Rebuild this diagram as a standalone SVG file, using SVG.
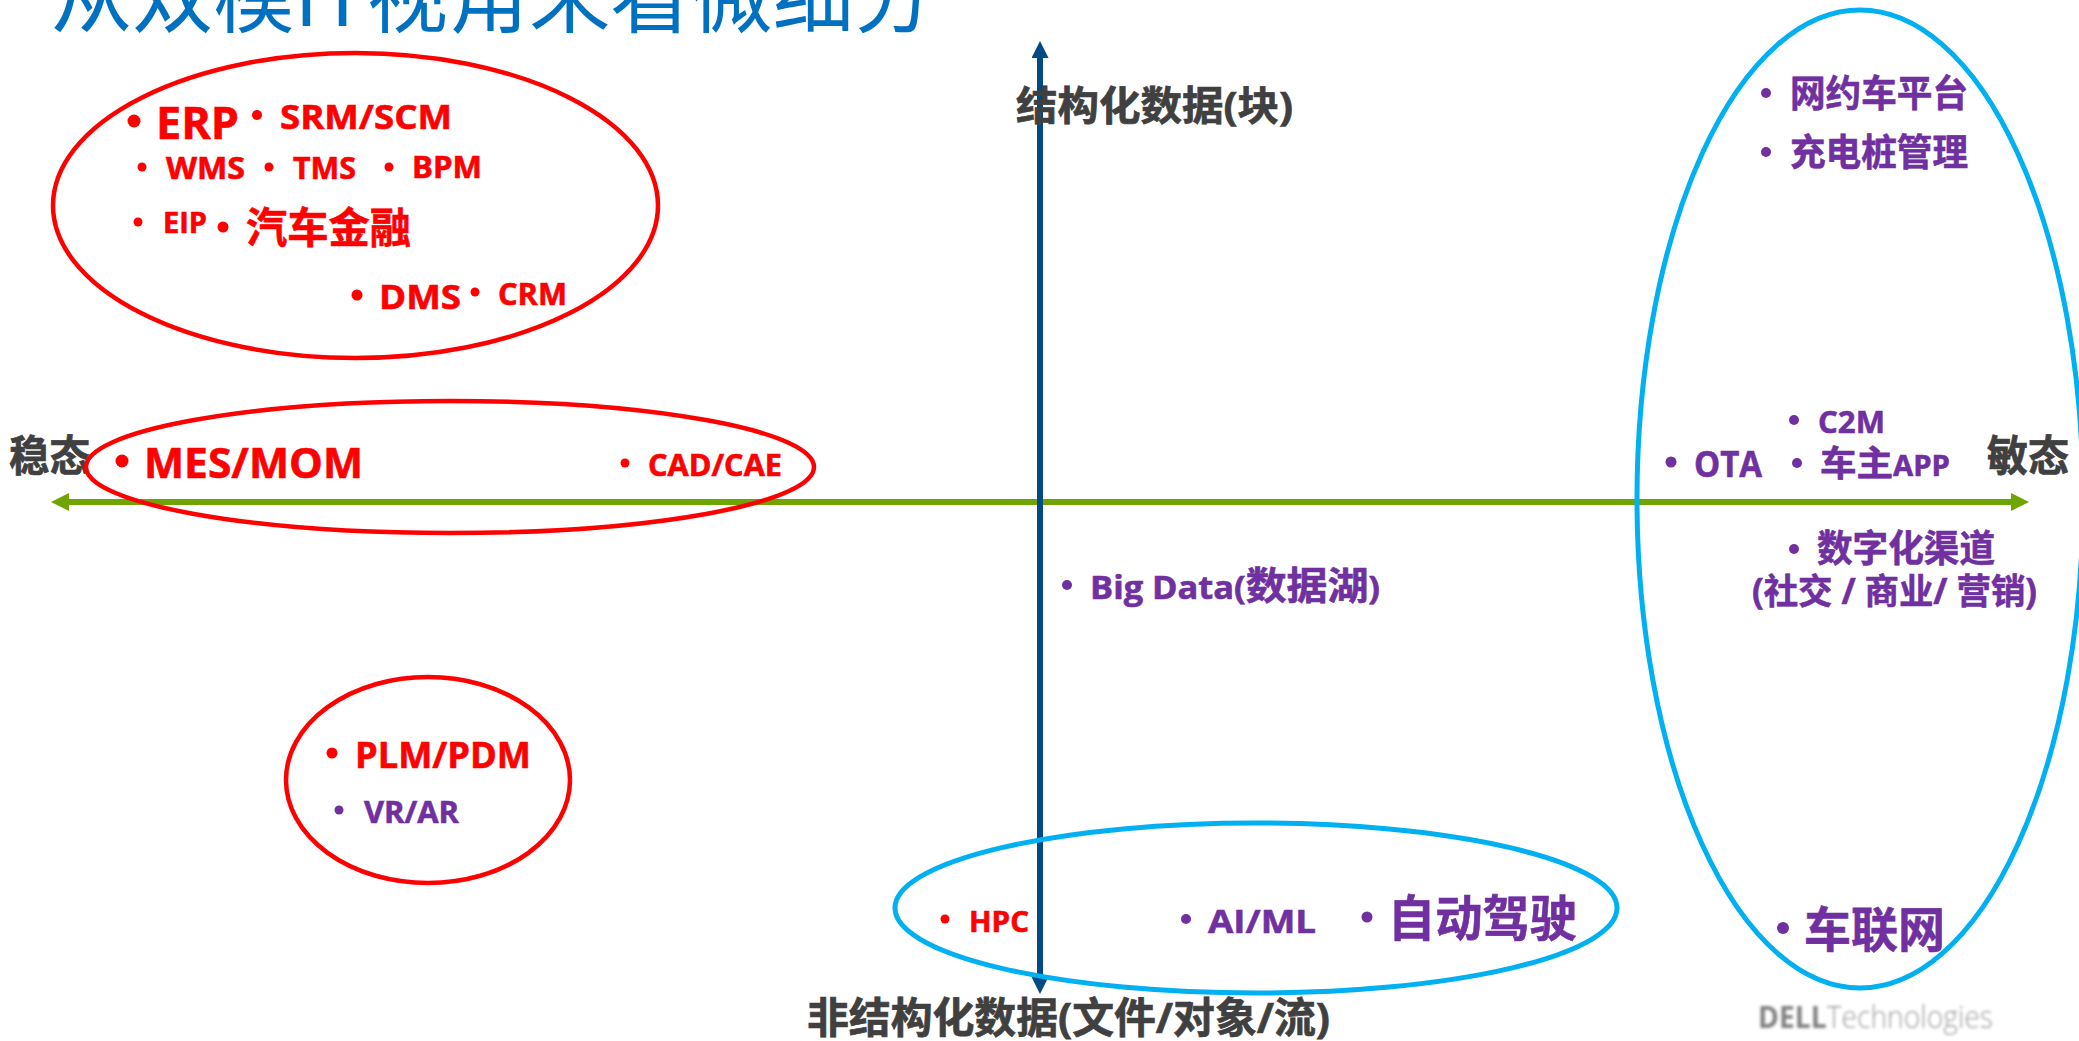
<svg xmlns="http://www.w3.org/2000/svg" width="2079" height="1041" viewBox="0 0 2079 1041">
<defs>
<marker id="ah-green" markerUnits="userSpaceOnUse" markerWidth="18" markerHeight="18" refX="1" refY="9" orient="auto-start-reverse"><path d="M0 0L18 9L0 18z" fill="#6fa500"/></marker>
<marker id="ah-blue" markerUnits="userSpaceOnUse" markerWidth="17" markerHeight="17" refX="1" refY="8.5" orient="auto-start-reverse"><path d="M0 0L17 8.5L0 17z" fill="#004a86"/></marker>
<filter id="soft" x="-5%" y="-20%" width="110%" height="140%"><feGaussianBlur stdDeviation="1.5"/></filter>
</defs>
<style>
text{font-family:"Open Sans","Noto Sans CJK SC","Liberation Sans",sans-serif;font-weight:700}
.r{fill:#ff0000}.p{fill:#7030a0}.g{fill:#404040}
text.r{stroke:#ff0000;stroke-width:.6}
text.p{stroke:#7030a0;stroke-width:.6}
text.g{stroke:#404040;stroke-width:.7}
.er{fill:none;stroke:#ff0000;stroke-width:4.5}
.eb{fill:none;stroke:#00b0f0;stroke-width:5}
</style>
<rect width="2079" height="1041" fill="#ffffff"/>
<text id="title" x="51" y="26" font-size="84" style="font-weight:400;font-family:'Noto Sans CJK SC',sans-serif" fill="#0070c0" textLength="884" lengthAdjust="spacingAndGlyphs">从双模IT视角来看微细分</text>
<g id="connectors">
<line x1="68" y1="502" x2="2012" y2="502" stroke="#6fa500" stroke-width="6" marker-start="url(#ah-green)" marker-end="url(#ah-green)"/>
<line x1="1040" y1="57" x2="1040" y2="978" stroke="#004a86" stroke-width="6" marker-start="url(#ah-blue)" marker-end="url(#ah-blue)"/>
</g>
<g id="axis-top"><text class="g" x="1016" y="120" font-size="40" textLength="277" lengthAdjust="spacingAndGlyphs">结构化数据(块)</text></g>
<g id="axis-bottom"><text class="g" x="807" y="1033" font-size="42" textLength="523" lengthAdjust="spacingAndGlyphs">非结构化数据(文件/对象/流)</text></g>
<g id="axis-left"><text class="g" x="9" y="471" font-size="42" textLength="81" lengthAdjust="spacingAndGlyphs">稳态</text></g>
<g id="axis-right"><text class="g" x="1987" y="471" font-size="42" textLength="82" lengthAdjust="spacingAndGlyphs">敏态</text></g>
<g id="node-enterprise">
<ellipse class="er" cx="355.500" cy="205.500" rx="302.500" ry="152.500"/>
<circle class="r" cx="134" cy="121" r="6.5"/><text class="r" x="156" y="139" font-size="45" textLength="83" lengthAdjust="spacingAndGlyphs">ERP</text>
<circle class="r" cx="257" cy="115" r="5"/><text class="r" x="280" y="129" font-size="34" textLength="172" lengthAdjust="spacingAndGlyphs">SRM/SCM</text>
<circle class="r" cx="142" cy="167" r="4.5"/><text class="r" x="166" y="179" font-size="30" textLength="79" lengthAdjust="spacingAndGlyphs">WMS</text>
<circle class="r" cx="269" cy="167" r="4.5"/><text class="r" x="293" y="179" font-size="30" textLength="63" lengthAdjust="spacingAndGlyphs">TMS</text>
<circle class="r" cx="389" cy="167" r="4.5"/><text class="r" x="412" y="178" font-size="30" textLength="70" lengthAdjust="spacingAndGlyphs">BPM</text>
<circle class="r" cx="138" cy="222" r="4.5"/><text class="r" x="163" y="233" font-size="28" textLength="44" lengthAdjust="spacingAndGlyphs">EIP</text>
<circle class="r" cx="223" cy="227" r="5.5"/><text class="r" x="246" y="243" font-size="42" textLength="165" lengthAdjust="spacingAndGlyphs">汽车金融</text>
<circle class="r" cx="357" cy="295" r="5.5"/><text class="r" x="379" y="309" font-size="34" textLength="82" lengthAdjust="spacingAndGlyphs">DMS</text>
<circle class="r" cx="475" cy="292" r="4.5"/><text class="r" x="498" y="305" font-size="30" textLength="69" lengthAdjust="spacingAndGlyphs">CRM</text>
</g>
<g id="node-manufacturing">
<ellipse class="er" cx="450" cy="467" rx="364" ry="66"/>
<circle class="r" cx="122" cy="461" r="6.5"/><text class="r" x="144" y="478" font-size="41" textLength="219" lengthAdjust="spacingAndGlyphs">MES/MOM</text>
<circle class="r" cx="625" cy="463" r="4.5"/><text class="r" x="648" y="476" font-size="30" textLength="134" lengthAdjust="spacingAndGlyphs">CAD/CAE</text>
</g>
<g id="node-product">
<ellipse class="er" cx="428" cy="780" rx="142" ry="103"/>
<circle class="r" cx="332" cy="753" r="5.5"/><text class="r" x="355" y="768" font-size="36" textLength="176" lengthAdjust="spacingAndGlyphs">PLM/PDM</text>
<circle class="p" cx="339" cy="810" r="4.5"/><text class="p" x="364" y="823" font-size="30" textLength="95" lengthAdjust="spacingAndGlyphs">VR/AR</text>
</g>
<g id="node-compute">
<ellipse class="eb" cx="1256" cy="908" rx="361" ry="85"/>
<circle class="r" cx="945" cy="919" r="4.500"/><text class="r" x="969" y="932" font-size="28" textLength="60" lengthAdjust="spacingAndGlyphs">HPC</text>
<circle class="p" cx="1186" cy="919" r="5"/><text class="p" x="1208" y="933" font-size="33" textLength="108" lengthAdjust="spacingAndGlyphs">AI/ML</text>
<circle class="p" cx="1367" cy="917" r="5.5"/><text class="p" x="1388" y="936" font-size="49" textLength="189" lengthAdjust="spacingAndGlyphs">自动驾驶</text>
</g>
<g id="node-bigdata">
<circle class="p" cx="1067" cy="585" r="5"/><text class="p" x="1090" y="599" font-size="32" textLength="290" lengthAdjust="spacingAndGlyphs">Big Data(<tspan font-size="38">数据湖</tspan>)</text>
</g>
<g id="node-agile">
<ellipse class="eb" cx="1860" cy="499" rx="223" ry="489"/>
<circle class="p" cx="1766" cy="93" r="5"/><text class="p" x="1790" y="107" font-size="37" textLength="178" lengthAdjust="spacingAndGlyphs">网约车平台</text>
<circle class="p" cx="1766" cy="152" r="5"/><text class="p" x="1790" y="166" font-size="37" textLength="178" lengthAdjust="spacingAndGlyphs">充电桩管理</text>
<circle class="p" cx="1794" cy="420" r="5"/><text class="p" x="1818" y="433" font-size="31" textLength="67" lengthAdjust="spacingAndGlyphs">C2M</text>
<circle class="p" cx="1671" cy="462" r="5.5"/><text class="p" x="1694" y="477" font-size="36" textLength="68" lengthAdjust="spacingAndGlyphs">OTA</text>
<circle class="p" cx="1797" cy="463" r="5"/><text class="p" x="1820" y="476" font-size="35" textLength="130" lengthAdjust="spacingAndGlyphs">车主<tspan font-size="28">APP</tspan></text>
<circle class="p" cx="1794" cy="549" r="5"/><text class="p" x="1817" y="562" font-size="37" textLength="178" lengthAdjust="spacingAndGlyphs">数字化渠道</text>
<text class="p" x="1752" y="604" font-size="35" textLength="285" lengthAdjust="spacingAndGlyphs">(社交 / 商业/ 营销)</text>
<circle class="p" cx="1783" cy="928" r="6"/><text class="p" x="1804" y="947" font-size="48" textLength="141" lengthAdjust="spacingAndGlyphs">车联网</text>
</g>
<g id="logo" filter="url(#soft)">
<text x="1758" y="1028" font-size="31" fill="#808080" textLength="235" lengthAdjust="spacingAndGlyphs">DELL<tspan style="font-weight:300" fill="#a0a0a0">Technologies</tspan></text>
</g>
</svg>
